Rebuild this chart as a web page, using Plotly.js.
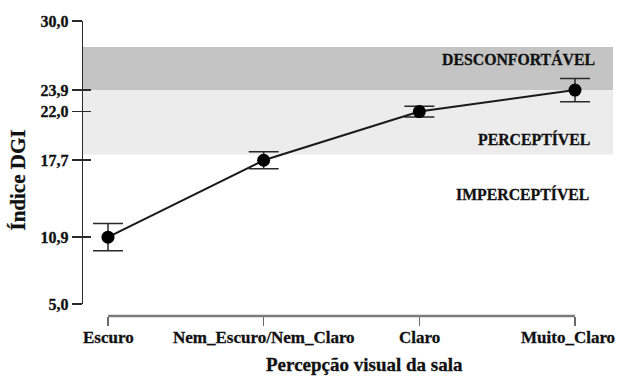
<!DOCTYPE html>
<html>
<head>
<meta charset="utf-8">
<script src="https://cdn.plot.ly/plotly-3.0.1.min.js"></script>
<style>
  html, body { margin: 0; padding: 0; background: #ffffff; }
  #chart { width: 618px; height: 376px; }
  #chart svg text { stroke: #111111; stroke-width: 0.3px; }
</style>
</head>
<body>
<div id="chart"></div>
<script>
// Mean DGI glare index by perceived room brightness
const categories = ['Escuro', 'Nem_Escuro/Nem_Claro', 'Claro', 'Muito_Claro'];
const dgiMean = [10.9, 17.7, 22.0, 23.9];
const dgiError = [1.2, 0.75, 0.47, 1.03];

const yTickVals = [5.0, 10.9, 17.7, 22.0, 23.9, 30.0];
const yTickText = ['5,0', '10,9', '17,7', '22,0', '23,9', '30,0'];

// Glare sensation zones (lower bound, upper bound)
const zoneNames = ['PERCEPTÍVEL', 'DESCONFORTÁVEL'];
const zoneLower = [18.2, 23.9];
const zoneUpper = [23.9, 27.7];
const lowZoneName = 'IMPERCEPTÍVEL';

const serif = 'Liberation Serif';
const ink = '#111111';
const zoneFill = ['#ececec', '#c4c4c4'];
const categoryIndex = categories.map((c, i) => i);
// horizontal extent of the category axis (first to last category), in page fractions
const categoryDomain = [0.04717, 0.9283];

const mainTrace = {
  type: 'scatter',
  mode: 'lines+markers',
  x: categories,
  y: dgiMean,
  xaxis: 'x',
  yaxis: 'y',
  line: { color: '#1a1a1a', width: 2 },
  marker: { color: '#000000', size: 13 },
  error_y: { type: 'data', array: dgiError, visible: true, color: '#2a2a2a', thickness: 1.5, width: 15 },
  hoverinfo: 'x+y',
  showlegend: false
};

// Copy on the overlay axis so its inner tick marks are drawn
const overlayTrace = {
  type: 'scatter',
  mode: 'markers',
  x: categories,
  y: dgiMean,
  xaxis: 'x',
  yaxis: 'y2',
  marker: { opacity: 0 },
  hoverinfo: 'skip',
  showlegend: false
};

// Holder for the category axis strip below the plot
const categoryAxisTrace = {
  type: 'scatter',
  mode: 'markers',
  x: categoryIndex,
  y: categoryIndex.map(() => 0),
  xaxis: 'x2',
  yaxis: 'y3',
  marker: { opacity: 0 },
  hoverinfo: 'skip',
  showlegend: false
};

const shapes = zoneNames.map((name, i) => ({
  type: 'rect',
  xref: 'paper', yref: 'y',
  x0: 0, x1: 1,
  y0: zoneLower[i], y1: zoneUpper[i],
  fillcolor: zoneFill[i],
  line: { width: 0 },
  layer: 'below'
}));

// Baseline of the category axis
shapes.push({
  type: 'line',
  xref: 'paper', yref: 'paper',
  x0: categoryDomain[0], x1: categoryDomain[1],
  y0: 0, y1: 0,
  line: { color: '#7c7c7c', width: 2.5 },
  layer: 'above'
});

const labelFont = { family: serif, size: 15.8, color: ink, weight: 'bold' };
const tickFont = { family: serif, size: 17, color: ink, weight: 'bold' };

const annotations = [
  { text: zoneNames[1], xref: 'paper', yref: 'y', x: 0.9698, y: 26.64, xanchor: 'right', yanchor: 'middle', showarrow: false, font: labelFont },
  { text: zoneNames[0], xref: 'paper', yref: 'y', x: 0.9604, y: 19.58, xanchor: 'right', yanchor: 'middle', showarrow: false, font: labelFont },
  { text: lowZoneName, xref: 'paper', yref: 'y', x: 0.9585, y: 14.72, xanchor: 'right', yanchor: 'middle', showarrow: false, font: labelFont },
  { text: 'Percepção visual da sala', xref: 'paper', yref: 'paper', x: 0.532, y: -0.166, xanchor: 'center', yanchor: 'middle', showarrow: false,
    font: { family: serif, size: 19, color: ink, weight: 'bold' } },
  { text: 'Índice DGI', xref: 'paper', yref: 'paper', x: -0.1217, y: 0.461, xanchor: 'center', yanchor: 'middle', textangle: -90, showarrow: false,
    font: { family: serif, size: 21, color: ink, weight: 'bold' } }
];

// Category names under their ticks; the last one is kept inside the page edge
categories.forEach((name, i) => {
  const last = i === categories.length - 1;
  annotations.push({
    text: name,
    xref: 'x2', yref: 'paper',
    x: categoryIndex[i], y: 0,
    xanchor: last ? 'right' : 'center',
    xshift: last ? 42 : 0,
    yanchor: 'middle', yshift: -21,
    showarrow: false,
    font: tickFont
  });
});

const layout = {
  width: 618,
  height: 376,
  margin: { l: 83, r: 5, t: 21, b: 60, pad: 0 },
  paper_bgcolor: '#ffffff',
  plot_bgcolor: 'rgba(0,0,0,0)',
  font: { family: serif, size: 16, color: ink, weight: 'bold' },
  showlegend: false,
  xaxis: {
    type: 'category',
    categoryorder: 'array',
    categoryarray: categories,
    range: [-0.1606, 3.244],
    showline: false, showgrid: false, zeroline: false,
    ticks: '', showticklabels: false,
    anchor: 'y'
  },
  xaxis2: {
    type: 'linear',
    domain: categoryDomain,
    range: [0, 3],
    anchor: 'y3',
    side: 'bottom',
    showline: true, linecolor: '#8a8a8a', linewidth: 1,
    showgrid: false, zeroline: false,
    ticks: 'outside', ticklen: 9, tickwidth: 1.5, tickcolor: '#6a6a6a',
    tickvals: categoryIndex,
    showticklabels: false
  },
  yaxis3: {
    domain: [0, 0.03],
    range: [-1, 1],
    anchor: 'x2',
    showline: false, showgrid: false, zeroline: false, showticklabels: false, ticks: ''
  },
  yaxis: {
    domain: [0.0407, 1],
    range: [5, 30],
    showline: true, linecolor: '#2a2a2a', linewidth: 1.2,
    showgrid: false, zeroline: false,
    ticks: 'outside', ticklen: 10, tickwidth: 1.5, tickcolor: '#2a2a2a',
    tickvals: yTickVals,
    ticktext: yTickText,
    tickfont: { family: serif, size: 16, color: ink, weight: 'bold' },
    anchor: 'x'
  },
  yaxis2: {
    overlaying: 'y',
    side: 'left',
    range: [5, 30],
    showline: false, showgrid: false, zeroline: false,
    ticks: 'inside', ticklen: 8, tickwidth: 1.5, tickcolor: '#2a2a2a',
    tickvals: yTickVals.slice(1, 5),
    showticklabels: false,
    anchor: 'x'
  },
  shapes: shapes,
  annotations: annotations
};

Plotly.newPlot('chart', [categoryAxisTrace, overlayTrace, mainTrace], layout, { displayModeBar: false, staticPlot: true });
</script>
</body>
</html>
